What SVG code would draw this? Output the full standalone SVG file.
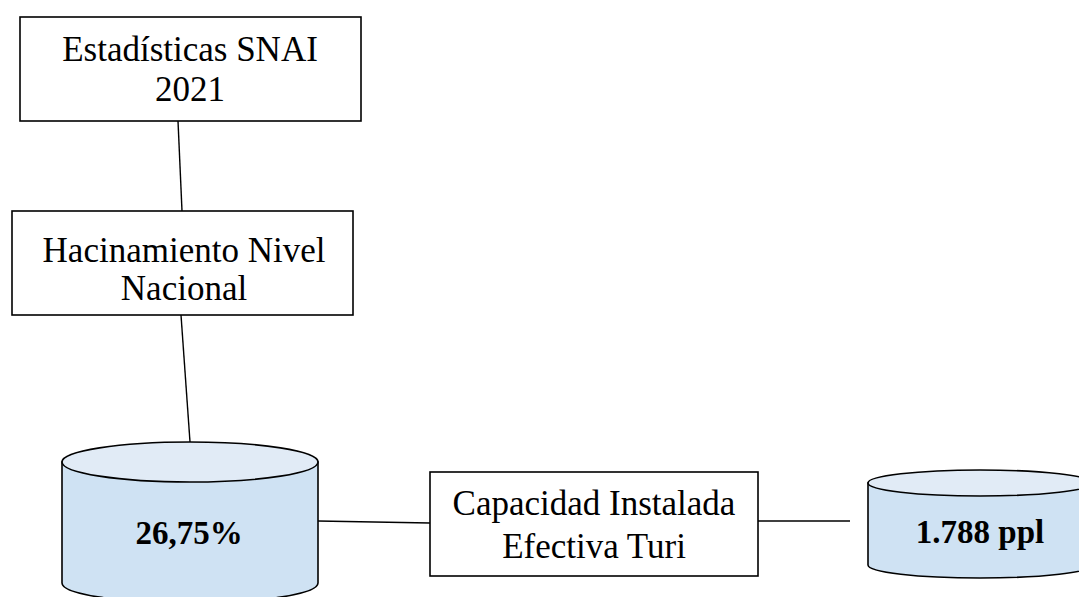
<svg xmlns="http://www.w3.org/2000/svg" width="1079" height="597" viewBox="0 0 1079 597">
<style>
.box{fill:#ffffff;stroke:#000;stroke-width:1.6}
.cyl{fill:#cfe2f3;stroke:#000;stroke-width:1.6}
.cyltop{fill:#e1ebf6;stroke:#000;stroke-width:1.6}
.t{font-family:"Liberation Serif","Times New Roman",serif;font-size:35px;fill:#000;text-anchor:middle}
.b{font-family:"Liberation Serif","Times New Roman",serif;font-size:33px;font-weight:bold;fill:#000;text-anchor:middle}
.c{stroke:#000;stroke-width:1.4;fill:none}
</style>
<rect width="1079" height="597" fill="#fff"/>
<g id="connectors">
<line class="c" x1="178" y1="121" x2="182" y2="211"/>
<line class="c" x1="181" y1="315" x2="190" y2="442"/>
<line class="c" x1="318" y1="521" x2="430" y2="523"/>
<line class="c" x1="758" y1="521" x2="850" y2="521"/>
</g>
<g id="n1">
<rect class="box" x="20" y="17" width="341" height="104"/>
<text class="t" x="190" y="61">Estadísticas SNAI</text>
<text class="t" x="190" y="101">2021</text>
</g>
<g id="n2">
<rect class="box" x="12" y="211" width="341" height="104"/>
<text class="t" x="184" y="262">Hacinamiento Nivel</text>
<text class="t" x="184" y="300">Nacional</text>
</g>
<g id="n3">
<path class="cyl" d="M62,462 L62,583 A128,20 0 0 0 318,583 L318,462 Z"/>
<ellipse class="cyltop" cx="190" cy="462" rx="128" ry="20"/>
<text class="b" x="189" y="544">26,75%</text>
</g>
<g id="n4">
<rect class="box" x="430" y="472" width="328" height="104"/>
<text class="t" x="594" y="515">Capacidad Instalada</text>
<text class="t" x="594" y="558">Efectiva Turi</text>
</g>
<g id="n5">
<path class="cyl" d="M868,483 L868,565 A112,13 0 0 0 1092,565 L1092,483 Z"/>
<ellipse class="cyltop" cx="980" cy="483" rx="112" ry="13"/>
<text class="b" x="980" y="543">1.788 ppl</text>
</g>
</svg>
